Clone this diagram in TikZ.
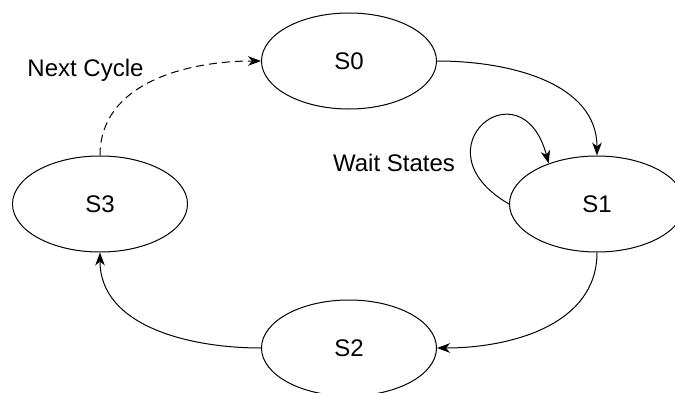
\documentclass[tikz,border=0pt]{standalone}
\usepackage{fontspec}
\setmainfont{Liberation Sans}
\usepackage{tikz}
\usetikzlibrary{shapes.geometric, arrows.meta}

\begin{document}
\begin{tikzpicture}[x=0.5pt, y=0.5pt,
    state/.style={draw, ellipse, line width=0.5pt, minimum width=87.5pt, minimum height=48pt, inner sep=0pt},
    trans/.style={line width=0.5pt, -{Stealth[length=6.5pt, width=4.8pt, inset=2pt]}},
    lab/.style={font=\fontsize{12}{14}\selectfont}]
% Canvas (ellipses S1 and S2 run off the edge)
\clip (0,0) rectangle (675,392);

% States
\foreach \n/\x/\y in {0/349/331, 1/597/188, 2/349/44, 3/100/188} {
    \node[state, lab] (s\n) at (\x,\y) {S\n};
}

% Transitions
\draw[trans] (s0.east) to[out=0, in=90] (s1.north);
\draw[trans] (s1.south) to[out=-90, in=0] (s2.east);
\draw[trans] (s2.west) to[out=180, in=-90] (s3.south);
\draw[trans, dash pattern=on 4pt off 2.5pt] (s3.north) to[out=90, in=180] (s0.west);

% Wait states loop on S1
\draw[trans] (s1.west) .. controls +(150:110) and +(105:105) .. (s1.140);

% Labels
\node[lab] (nextcycle) at (85.5,322) {Next Cycle};
\node[lab] (waitstates) at (394,229) {Wait States};
\end{tikzpicture}
\end{document}
